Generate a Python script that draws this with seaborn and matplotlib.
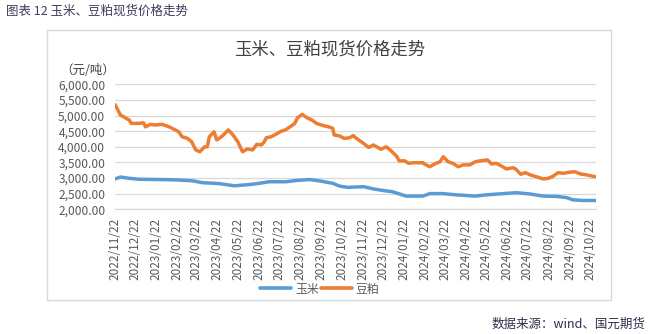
import matplotlib
matplotlib.use("Agg")
import matplotlib.pyplot as plt
import matplotlib.dates as mdates
from matplotlib.lines import Line2D
from matplotlib.patches import Rectangle
from matplotlib.ticker import FuncFormatter, MultipleLocator
import pandas as pd
import seaborn as sns

# 玉米现货价格（元/吨）
corn_dates = [
    "2022-11-22", "2022-11-30", "2022-12-13", "2022-12-27", "2023-01-26", "2023-02-20",
    "2023-03-16", "2023-03-31", "2023-04-25", "2023-05-17", "2023-06-08", "2023-06-23",
    "2023-07-07", "2023-08-01", "2023-08-16", "2023-09-05", "2023-09-19", "2023-10-09",
    "2023-10-19", "2023-10-31", "2023-11-10", "2023-11-24", "2023-12-08", "2023-12-22",
    "2024-01-05", "2024-01-15", "2024-01-25", "2024-02-07", "2024-02-19", "2024-02-29",
    "2024-03-19", "2024-04-08", "2024-05-06", "2024-05-22", "2024-06-17", "2024-07-05",
    "2024-07-25", "2024-08-14", "2024-09-03", "2024-09-18", "2024-09-27", "2024-10-11",
    "2024-10-30",
]
corn_price = [
    2970, 3030, 2990, 2960, 2950, 2940,
    2910, 2850, 2820, 2750, 2790, 2830,
    2880, 2880, 2920, 2950, 2910, 2830,
    2740, 2700, 2710, 2720, 2650, 2600,
    2560, 2490, 2420, 2420, 2420, 2500,
    2500, 2460, 2420, 2460, 2500, 2530,
    2490, 2420, 2410, 2370, 2300, 2280,
    2280,
]

# 豆粕现货价格（元/吨）
meal_dates = [
    "2022-11-22", "2022-11-25", "2022-11-30", "2022-12-07", "2022-12-13", "2022-12-16",
    "2022-12-27", "2023-01-03", "2023-01-06", "2023-01-13", "2023-01-20", "2023-01-30",
    "2023-02-10", "2023-02-17", "2023-02-24", "2023-03-01", "2023-03-09", "2023-03-15",
    "2023-03-21", "2023-03-27", "2023-04-03", "2023-04-07", "2023-04-10", "2023-04-17",
    "2023-04-21", "2023-04-28", "2023-05-08", "2023-05-15", "2023-05-22", "2023-05-29",
    "2023-06-05", "2023-06-13", "2023-06-19", "2023-06-26", "2023-06-30", "2023-07-03",
    "2023-07-10", "2023-07-17", "2023-07-25", "2023-07-31", "2023-08-07", "2023-08-14",
    "2023-08-18", "2023-08-25", "2023-09-01", "2023-09-08", "2023-09-15", "2023-09-25",
    "2023-10-03", "2023-10-09", "2023-10-11", "2023-10-19", "2023-10-26", "2023-11-03",
    "2023-11-08", "2023-11-13", "2023-11-22", "2023-12-01", "2023-12-08", "2023-12-19",
    "2023-12-27", "2024-01-03", "2024-01-11", "2024-01-15", "2024-01-23", "2024-01-29",
    "2024-02-05", "2024-02-19", "2024-02-21", "2024-02-29", "2024-03-07", "2024-03-15",
    "2024-03-20", "2024-03-27", "2024-04-03", "2024-04-11", "2024-04-18", "2024-04-28",
    "2024-05-06", "2024-05-13", "2024-05-24", "2024-05-30", "2024-06-06", "2024-06-14",
    "2024-06-21", "2024-07-01", "2024-07-05", "2024-07-12", "2024-07-19", "2024-07-26",
    "2024-08-07", "2024-08-14", "2024-08-22", "2024-08-29", "2024-09-05", "2024-09-13",
    "2024-09-20", "2024-09-30", "2024-10-08", "2024-10-17", "2024-10-30",
]
meal_price = [
    5350, 5230, 5020, 4930, 4860, 4750,
    4750, 4770, 4640, 4720, 4700, 4720,
    4640, 4560, 4480, 4320, 4270, 4160,
    3900, 3840, 4000, 4000, 4320, 4480,
    4220, 4320, 4540, 4380, 4160, 3840,
    3930, 3900, 4080, 4060, 4160, 4290,
    4320, 4400, 4500, 4540, 4640, 4750,
    4930, 5040, 4930, 4860, 4750, 4680,
    4640, 4590, 4380, 4350, 4270, 4290,
    4360, 4270, 4130, 3980, 4060, 3920,
    4000, 3870, 3700, 3550, 3550, 3470,
    3490, 3490, 3450, 3360, 3450, 3520,
    3680, 3520, 3470, 3360, 3420, 3420,
    3520, 3550, 3580, 3450, 3470, 3380,
    3290, 3330, 3280, 3120, 3170, 3100,
    3020, 2970, 2990, 3060, 3170, 3150,
    3180, 3200, 3130, 3100, 3040,
]

series_names = ["玉米", "豆粕"]
series_colors = ["#5B9BD5", "#ED7D31"]

sns.set_theme(style="white")
plt.rcParams["font.family"] = ["Noto Sans CJK SC", "DejaVu Sans"]

df = pd.concat([
    pd.DataFrame({"日期": pd.to_datetime(corn_dates), "价格": corn_price, "品种": series_names[0]}),
    pd.DataFrame({"日期": pd.to_datetime(meal_dates), "价格": meal_price, "品种": series_names[1]}),
], ignore_index=True)

W, H = 650, 334
fig = plt.figure(figsize=(W / 100, H / 100), dpi=100)
fig.patch.set_facecolor("white")

# chart frame
fig.add_artist(Rectangle((47 / W, 1 - 300 / H), (611 - 47) / W, (300 - 30) / H,
                         transform=fig.transFigure, fill=False,
                         edgecolor="#d9d9d9", linewidth=1.0))

ax = fig.add_axes([115 / W, 1 - 209.2 / H, 481 / W, 124.8 / H])
sns.lineplot(data=df, x="日期", y="价格", hue="品种", hue_order=series_names,
             palette=dict(zip(series_names, series_colors)),
             linewidth=2.5, ax=ax, legend=False)

ax.set_xlim(pd.Timestamp("2022-11-22"), pd.Timestamp("2024-10-31"))
ax.set_ylim(2000, 6000)
ax.yaxis.set_major_locator(MultipleLocator(500))
ax.yaxis.set_major_formatter(FuncFormatter(lambda v, p: f"{v:,.2f}"))
ax.xaxis.set_major_locator(mdates.MonthLocator(bymonthday=22))
ax.xaxis.set_major_formatter(mdates.DateFormatter("%Y/%m/%d"))

ax.grid(axis="y", color="#d9d9d9", linewidth=0.9)
ax.grid(axis="x", visible=False)
for side in ["left", "right", "top"]:
    ax.spines[side].set_visible(False)
ax.spines["bottom"].set_color("#d9d9d9")
ax.spines["bottom"].set_linewidth(0.9)

ax.tick_params(axis="y", length=0, pad=7, labelsize=8.6, labelcolor="#595959")
ax.tick_params(axis="x", length=4, width=0.9, color="#d9d9d9", pad=2,
               labelsize=8.5, labelcolor="#595959", rotation=90)
for lbl in ax.get_xticklabels() + ax.get_yticklabels():
    lbl.set_fontweight("light")
ax.set_xlabel("")
ax.set_ylabel("")

ax.text(0.0, 1.11, "（元/吨）", transform=ax.transAxes, ha="right", va="center",
        fontsize=9, color="#404040", fontweight="light")

fig.text(330 / W, 1 - 50 / H, "玉米、豆粕现货价格走势", ha="center", va="center",
         fontsize=12.5, color="#404040", fontweight="light")
fig.text(6 / W, 1 - 11 / H, "图表 12 玉米、豆粕现货价格走势", ha="left", va="center",
         fontsize=9, color="#3c3c5c")
fig.text(645 / W, 1 - 324 / H, "数据来源：wind、国元期货", ha="right", va="center",
         fontsize=9, color="#2e2e4e")

handles = [Line2D([], [], color=c, linewidth=2.6) for c in series_colors]
leg = fig.legend(handles, series_names, loc="center", bbox_to_anchor=(320 / W, 1 - 289 / H),
                 ncol=2, frameon=False, fontsize=8.6, handlelength=2.6, handletextpad=0.3,
                 columnspacing=0.2, labelcolor="#595959")
for t in leg.get_texts():
    t.set_fontweight("light")

fig.savefig("out.png", dpi=100, facecolor="white")
